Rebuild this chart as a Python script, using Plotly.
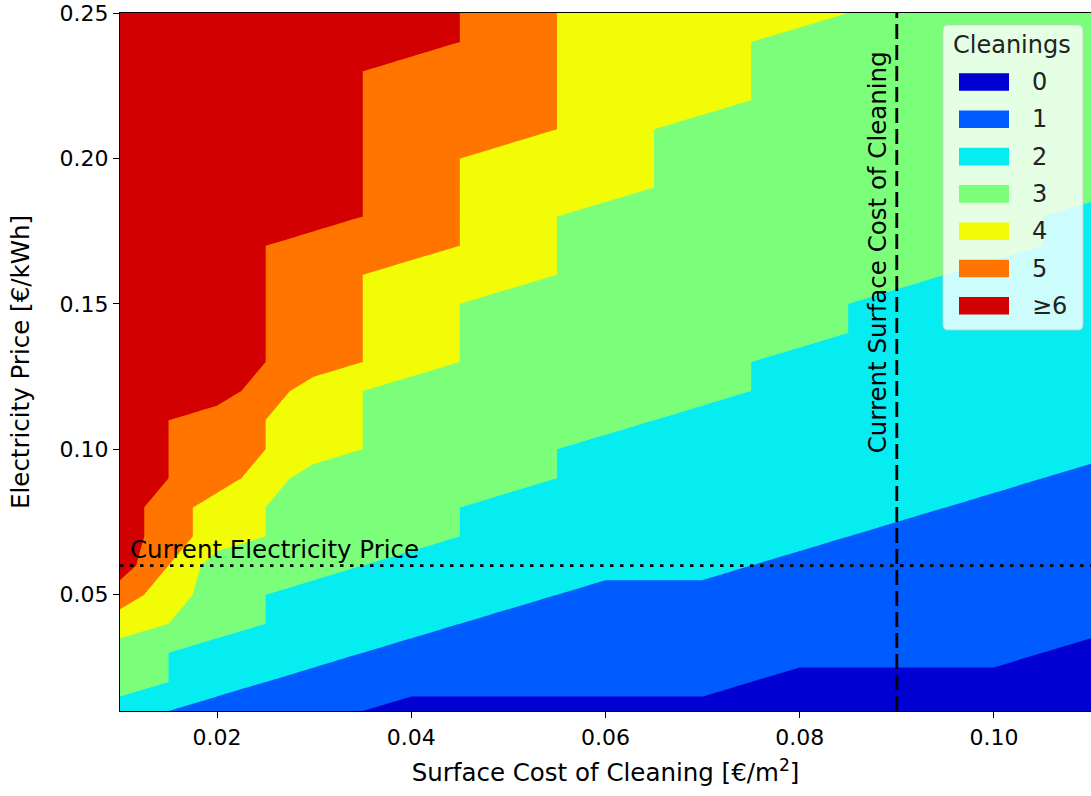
import plotly.graph_objects as go

# ---------------- data ----------------
surface_cost = [0.01, 0.02, 0.03, 0.04, 0.05, 0.06, 0.07, 0.08, 0.09, 0.10, 0.11]
electricity_price = [0.01, 0.02, 0.03, 0.04, 0.05, 0.06, 0.07, 0.08, 0.09, 0.10, 0.11, 0.12, 0.13,
                     0.14, 0.15, 0.16, 0.17, 0.18, 0.19, 0.20, 0.21, 0.22, 0.23, 0.24, 0.25]
# optimal number of cleanings (rows: electricity price, columns: surface cost), capped at 6
cleanings = [
    [2, 1, 1, 0, 0, 0, 0, 0, 0, 0, 0],  # 0.01
    [3, 2, 1, 1, 1, 1, 1, 0, 0, 0, 0],  # 0.02
    [3, 2, 2, 1, 1, 1, 1, 1, 1, 1, 0],  # 0.03
    [4, 3, 2, 2, 1, 1, 1, 1, 1, 1, 1],  # 0.04
    [5, 3, 2, 2, 2, 1, 1, 1, 1, 1, 1],  # 0.05
    [6, 3, 3, 2, 2, 2, 2, 1, 1, 1, 1],  # 0.06
    [6, 4, 3, 3, 2, 2, 2, 2, 1, 1, 1],  # 0.07
    [6, 4, 3, 3, 2, 2, 2, 2, 2, 1, 1],  # 0.08
    [6, 5, 3, 3, 3, 2, 2, 2, 2, 2, 1],  # 0.09
    [6, 5, 4, 3, 3, 2, 2, 2, 2, 2, 2],  # 0.10
    [6, 5, 4, 3, 3, 3, 2, 2, 2, 2, 2],  # 0.11
    [6, 6, 4, 3, 3, 3, 3, 2, 2, 2, 2],  # 0.12
    [6, 6, 5, 4, 3, 3, 3, 2, 2, 2, 2],  # 0.13
    [6, 6, 5, 4, 3, 3, 3, 3, 2, 2, 2],  # 0.14
    [6, 6, 5, 4, 3, 3, 3, 3, 2, 2, 2],  # 0.15
    [6, 6, 5, 4, 4, 3, 3, 3, 3, 2, 2],  # 0.16
    [6, 6, 5, 5, 4, 3, 3, 3, 3, 3, 2],  # 0.17
    [6, 6, 6, 5, 4, 3, 3, 3, 3, 3, 2],  # 0.18
    [6, 6, 6, 5, 4, 4, 3, 3, 3, 3, 3],  # 0.19
    [6, 6, 6, 5, 4, 4, 3, 3, 3, 3, 3],  # 0.20
    [6, 6, 6, 5, 5, 4, 3, 3, 3, 3, 3],  # 0.21
    [6, 6, 6, 5, 5, 4, 4, 3, 3, 3, 3],  # 0.22
    [6, 6, 6, 5, 5, 4, 4, 3, 3, 3, 3],  # 0.23
    [6, 6, 6, 6, 5, 4, 4, 3, 3, 3, 3],  # 0.24
    [6, 6, 6, 6, 5, 4, 4, 4, 3, 3, 3],  # 0.25
]
level_labels = ["0", "1", "2", "3", "4", "5", "≥6"]
level_colors = ["rgb(0,0,210)", "rgb(0,91,255)", "rgb(6,237,241)", "rgb(123,255,123)",
                "rgb(241,252,6)", "rgb(255,117,0)", "rgb(210,0,0)"]
current_electricity_price = 0.06
current_surface_cost = 0.09
x_ticks = [0.02, 0.04, 0.06, 0.08, 0.10]
y_ticks = [0.05, 0.10, 0.15, 0.20, 0.25]

# ---------------- figure ----------------
W, H = 1091, 796
ML, MR, MT, MB = 120, 0, 13, 85
FONT = "DejaVu Sans"
TXT = 24.5

n = len(level_colors)
colorscale = []
for i, c in enumerate(level_colors):
    colorscale.append([i / n, c])
    colorscale.append([(i + 1) / n, c])

fig = go.Figure()
fig.add_trace(go.Contour(
    x=surface_cost, y=electricity_price, z=cleanings,
    contours=dict(start=0.5, end=5.5, size=1, coloring="fill", showlines=False),
    line=dict(width=0, smoothing=0),
    colorscale=colorscale, zauto=False, zmin=-0.5, zmax=6.5,
    showscale=False, hoverinfo="skip",
))

fig.add_vline(x=current_surface_cost, line=dict(color="black", width=2.8, dash="15px,6px"))
fig.add_hline(y=current_electricity_price, line=dict(color="black", width=2.8, dash="3.5px,6.5px"))

fig.add_annotation(x=surface_cost[0], y=current_electricity_price, xref="x", yref="y",
                   text="Current Electricity Price", showarrow=False,
                   xanchor="left", yanchor="bottom", xshift=8, yshift=0,
                   font=dict(family=FONT, size=TXT, color="black"))
fig.add_annotation(x=current_surface_cost, y=electricity_price[-1], xref="x", yref="y",
                   text="Current Surface Cost of Cleaning", showarrow=False, textangle=-90,
                   xanchor="right", yanchor="top", xshift=-3, yshift=-36,
                   font=dict(family=FONT, size=TXT, color="black"))

# ---------------- legend (matplotlib style) ----------------
PW, PH = W - ML - MR, H - MT - MB


def px(xp):
    return (xp - ML) / PW


def py(yp):
    return (H - MB - yp) / PH


def rounded_rect(x0, y0, x1, y1, r):
    rx, ry = r / PW, r / PH
    X0, X1, Y0, Y1 = px(x0), px(x1), py(y1), py(y0)
    return (f"M {X0+rx},{Y0} L {X1-rx},{Y0} Q {X1},{Y0} {X1},{Y0+ry} "
            f"L {X1},{Y1-ry} Q {X1},{Y1} {X1-rx},{Y1} L {X0+rx},{Y1} "
            f"Q {X0},{Y1} {X0},{Y1-ry} L {X0},{Y0+ry} Q {X0},{Y0} {X0+rx},{Y0} Z")


fig.add_shape(type="path", xref="paper", yref="paper",
              path=rounded_rect(943, 25, 1083, 330, 5),
              fillcolor="rgba(255,255,255,0.8)", line=dict(color="rgba(204,204,204,0.8)", width=1),
              layer="above")
fig.add_annotation(x=px(1012), y=py(45), xref="paper", yref="paper", text="Cleanings",
                   showarrow=False, xanchor="center", yanchor="middle",
                   font=dict(family=FONT, size=24, color="#222"))
for i, (lab, col) in enumerate(zip(level_labels, level_colors)):
    yc = 82 + i * 37.3
    fig.add_shape(type="rect", xref="paper", yref="paper",
                  x0=px(959), x1=px(1009), y0=py(yc + 8.8), y1=py(yc - 8.8),
                  fillcolor=col, line=dict(width=0), layer="above")
    fig.add_annotation(x=px(1030), y=py(yc), xref="paper", yref="paper", text=lab,
                       showarrow=False, xanchor="left", yanchor="middle",
                       font=dict(family=FONT, size=24, color="#222"))

axis_common = dict(showline=True, mirror=True, linecolor="black", linewidth=1.3,
                   ticks="outside", ticklen=6, tickwidth=1.3, tickcolor="black",
                   showgrid=False, zeroline=False, tickformat=".2f",
                   tickfont=dict(family=FONT, size=22, color="black"))

fig.update_layout(
    width=W, height=H,
    margin=dict(l=ML, r=MR, t=MT, b=MB, pad=0),
    paper_bgcolor="white", plot_bgcolor="white",
    font=dict(family=FONT, color="black"),
    showlegend=False,
    xaxis=dict(range=[surface_cost[0], surface_cost[-1]], tickvals=x_ticks,
               title=dict(text="Surface Cost of Cleaning [€/m<sup>2</sup>]", standoff=15,
                          font=dict(family=FONT, size=TXT)),
               **axis_common),
    yaxis=dict(range=[electricity_price[0], electricity_price[-1]], tickvals=y_ticks,
               title=dict(text="Electricity Price [€/kWh]", standoff=22,
                          font=dict(family=FONT, size=TXT)),
               **axis_common),
)

fig.write_html("out.html", config={"displayModeBar": False},
               post_script="document.body.style.margin='0';document.body.style.overflow='hidden';")
